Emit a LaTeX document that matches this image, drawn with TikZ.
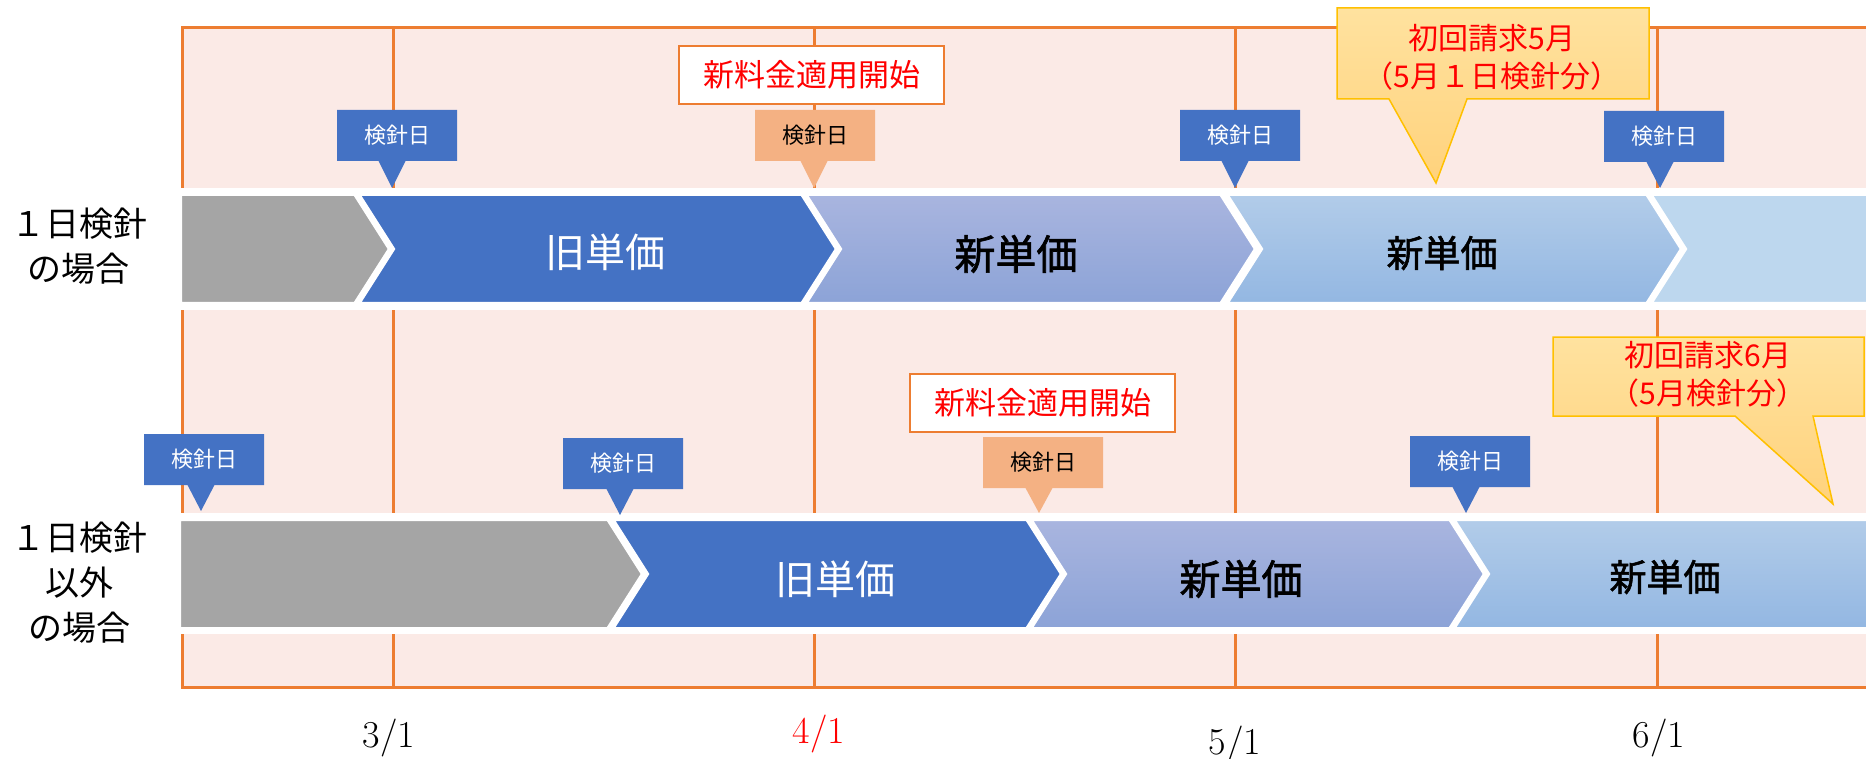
\documentclass[tikz,border=0pt]{standalone}
\usepackage{fontspec}
\newfontfamily\jp{Noto Sans CJK JP}
\newfontfamily\jpm[FakeBold=1.6]{Noto Sans CJK JP}
\definecolor{pinkbg}{HTML}{FBEAE6}
\definecolor{lineor}{HTML}{ED7D31}
\definecolor{blueA}{HTML}{4472C4}
\definecolor{grayA}{HTML}{A5A5A5}
\definecolor{lavtop}{HTML}{A9B5DF}
\definecolor{lavbot}{HTML}{8CA3D7}
\definecolor{lbtop}{HTML}{B2CCE9}
\definecolor{lbbot}{HTML}{93B7E2}
\definecolor{vlb}{HTML}{BDD7EE}
\definecolor{orC}{HTML}{F4B183}
\definecolor{yeltop}{HTML}{FFE29F}
\definecolor{yelbot}{HTML}{FFD27C}
\definecolor{yelbd}{HTML}{FFC000}
\definecolor{redA}{HTML}{FF0000}
\tikzset{
  kentext/.style={font=\jp\fontsize{22}{26}\selectfont, inner sep=0pt},
  rowlbl/.style={font=\jp\fontsize{34}{45}\selectfont, align=center, inner sep=0pt},
  oldp/.style={font=\jp\fontsize{40}{48}\selectfont, text=white, inner sep=0pt},
  newpA/.style={font=\jpm\fontsize{41}{48}\selectfont, inner sep=0pt},
  newpB/.style={font=\jpm\fontsize{37}{44}\selectfont, inner sep=0pt},
  startbox/.style={draw=lineor, line width=2pt, fill=white, minimum width=265pt, minimum height=58pt, inner sep=0pt, font=\jp\fontsize{31}{36}\selectfont, text=redA},
  yeltext/.style={font=\jp\fontsize{30}{38}\selectfont, text=redA, align=center, inner sep=0pt},
  datelbl/.style={font=\fontsize{38}{44}\selectfont, inner sep=0pt},
  chevbd/.style={draw=white, line width=4pt, line join=miter},
}
\newcommand\chev[5]{\path[#1,chevbd] (#2,#4) -- (#3,#4) -- (#3+35,{(#4+#5)/2}) -- (#3,#5) -- (#2,#5) -- (#2+35,{(#4+#5)/2}) -- cycle;}
\newcommand\kcall[7]{%
  \fill[#1] (#3-60,#4) -- (#3+60,#4) -- (#3+60,#4+51) -- (#5+13.5,#4+51) -- (#5,#6) -- (#5-13.5,#4+51) -- (#3-60,#4+51) -- cycle;
  \node[kentext,text=#2] (#7) at (#3,#4+25.5) {検針日};}
\begin{document}
\begin{tikzpicture}[x=1pt,y=-1pt]
\useasboundingbox (0,0) rectangle (1866,759);
% background grid
\fill[pinkbg] (182,28) rectangle (1866,687);
\draw[lineor, line width=3pt] (1866,28) -- (182,28) -- (182,687) -- (1866,687);
\foreach \xx in {393,814,1235,1657}
  \draw[lineor, line width=3pt] (\xx,28) -- (\xx,687);
% white bands
\fill[white] (178,188) rectangle (1866,310);
\fill[white] (178,513) rectangle (1866,634);
% row 1 chevrons
\path[fill=grayA,chevbd] (180,194) -- (355,194) -- (390,249) -- (355,304) -- (180,304) -- cycle;
\chev{fill=blueA}{358}{802}{194}{304}
\chev{top color=lavtop,bottom color=lavbot}{805}{1221}{194}{304}
\chev{top color=lbtop,bottom color=lbbot}{1226}{1647}{194}{304}
\path[fill=vlb,chevbd] (1650,194) -- (1872,194) -- (1872,304) -- (1650,304) -- (1685,249) -- cycle;
% row 2 chevrons
\path[fill=grayA,chevbd] (179,519) -- (608,519) -- (643,574) -- (608,629) -- (179,629) -- cycle;
\chev{fill=blueA}{612}{1027}{519}{629}
\chev{top color=lavtop,bottom color=lavbot}{1030}{1450}{519}{629}
\path[top color=lbtop,bottom color=lbbot,chevbd] (1453,519) -- (1872,519) -- (1872,629) -- (1453,629) -- (1488,574) -- cycle;
% bar texts
\node[oldp] (old1) at (605,252) {旧単価};
\node[newpA] (new1a) at (1016,254) {新単価};
\node[newpB] (new1b) at (1442,253) {新単価};
\node[oldp] (old2) at (835,579) {旧単価};
\node[newpA] (new2a) at (1241,579) {新単価};
\node[newpB] (new2b) at (1665,577) {新単価};
% row labels
\node[rowlbl] (row1) at (79,246) {１日検針\\の場合};
\node[rowlbl] (row2) at (80,583) {１日検針\\以外\\の場合};
% meter reading callouts row 1
\kcall{blueA}{white}{397}{110}{392}{188}{k11}
\kcall{orC}{black}{815}{110}{814}{188}{k12}
\kcall{blueA}{white}{1240}{110}{1235}{188}{k13}
\kcall{blueA}{white}{1664}{111}{1660}{188}{k14}
% meter reading callouts row 2
\kcall{blueA}{white}{204}{434}{201}{511}{k21}
\kcall{blueA}{white}{623}{438}{620}{515}{k22}
\kcall{orC}{black}{1043}{437}{1039}{513}{k23}
\kcall{blueA}{white}{1470}{436}{1466}{513}{k24}
% start boxes
\node[startbox] (start1) at (811.5,75) {新料金適用開始};
\node[startbox] (start2) at (1042.5,402.5) {新料金適用開始};
% yellow callouts
\path[top color=yeltop,bottom color=yelbot,draw=yelbd,line width=1.5pt]
  (1337,8) -- (1649,8) -- (1649,99) -- (1467,99) -- (1436,183) -- (1389,99) -- (1337,99) -- cycle;
\node[yeltext] (bill1) at (1492,57) {初回請求5月\\（5月１日検針分）};
\path[top color=yeltop,bottom color=yelbot,draw=yelbd,line width=1.5pt]
  (1553,337) -- (1864,337) -- (1864,416) -- (1813,416) -- (1833,504) -- (1735,416) -- (1553,416) -- cycle;
\node[yeltext] (bill2) at (1708,374) {初回請求6月\\（5月検針分）};
% dates
\node[datelbl] (d3) at (389,738) {3/1};
\node[datelbl,text=redA] (d4) at (819,734) {4/1};
\node[datelbl] (d5) at (1235,745) {5/1};
\node[datelbl] (d6) at (1659,738) {6/1};
\end{tikzpicture}
\end{document}
